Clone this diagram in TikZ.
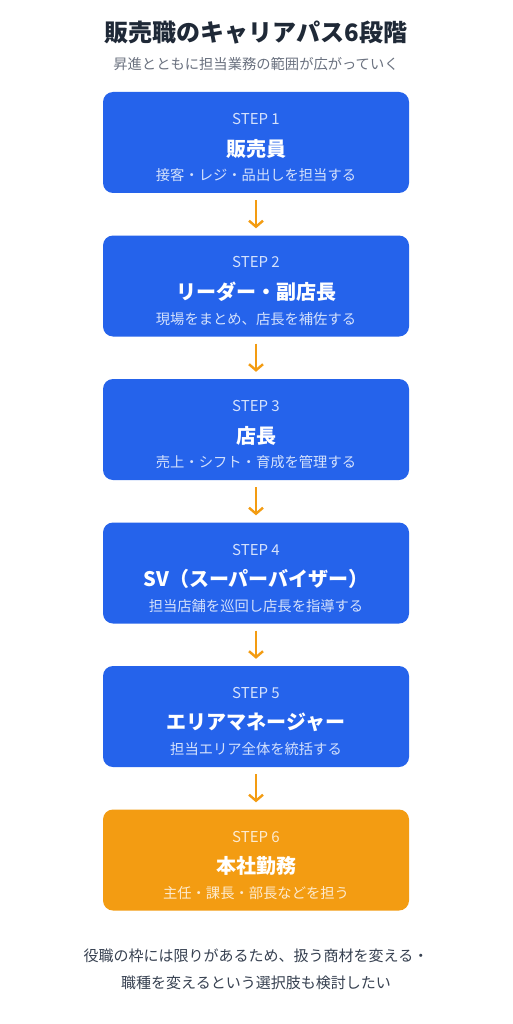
\documentclass[tikz,border=0pt]{standalone}
\usepackage{fontspec}
\setmainfont{Noto Sans CJK JP}
\usetikzlibrary{arrows.meta}
\definecolor{boxblue}{HTML}{2563EB}
\definecolor{boxorange}{HTML}{F39C12}
\definecolor{arroworange}{HTML}{F39C12}
\definecolor{titlecol}{HTML}{1F2937}
\definecolor{subcol}{HTML}{6B7280}
\definecolor{notecol}{HTML}{374151}
\definecolor{steplightb}{HTML}{D4E1FC}
\definecolor{steplighto}{HTML}{FDEBD0}
\tikzset{
  stepbox/.style={draw=none, fill=boxblue, rounded corners=10pt, minimum width=306pt, minimum height=101pt, inner sep=0pt},
  lastbox/.style={stepbox, fill=boxorange},
  steplabel/.style={font=\fontsize{15}{17}\selectfont, text=steplightb, inner sep=0pt},
  steplabelo/.style={font=\fontsize{15}{17}\selectfont, text=steplighto, inner sep=0pt},
  stepname/.style={font=\fontsize{20}{22}\selectfont\bfseries, text=white, inner sep=0pt},
  stepdesc/.style={font=\fontsize{14.3}{16}\selectfont, text=steplightb, inner sep=0pt},
  stepdesco/.style={font=\fontsize{14.3}{16}\selectfont, text=steplighto, inner sep=0pt},
  flow/.style={draw=arroworange, line width=2.4pt, -{Straight Barb[length=6pt,width=14pt,line width=2.4pt]}, shorten <=7pt, shorten >=7pt}
}
\begin{document}
\begin{tikzpicture}[x=1pt,y=-1pt]
\useasboundingbox (0,0) rectangle (512,1024);
\fill[white] (0,0) rectangle (512,1024);
\node[font=\fontsize{24}{28}\selectfont\bfseries, text=titlecol, inner sep=0pt] (title) at (256,33) {販売職のキャリアパス6段階};
\node[font=\fontsize{14.3}{17}\selectfont, text=subcol, inner sep=0pt] (sub) at (256,64) {昇進とともに担当業務の範囲が広がっていく};

\node[stepbox] (s1) at (256,142.5) {};
\node[stepbox] (s2) at (256,286) {};
\node[stepbox] (s3) at (256,429.5) {};
\node[stepbox] (s4) at (256,573) {};
\node[stepbox] (s5) at (256,716.5) {};
\node[lastbox] (s6) at (256,860) {};

\node[steplabel] (s1a) at ([yshift=23.5pt]s1.center) {STEP 1};
\node[stepname] (s1b) at ([yshift=-6pt]s1.center) {販売員};
\node[stepdesc] (s1c) at ([yshift=-33pt]s1.center) {接客・レジ・品出しを担当する};

\node[steplabel] (s2a) at ([yshift=23.5pt]s2.center) {STEP 2};
\node[stepname] (s2b) at ([yshift=-6pt]s2.center) {リーダー・副店長};
\node[stepdesc] (s2c) at ([yshift=-33pt]s2.center) {現場をまとめ、店長を補佐する};

\node[steplabel] (s3a) at ([yshift=23.5pt]s3.center) {STEP 3};
\node[stepname] (s3b) at ([yshift=-6pt]s3.center) {店長};
\node[stepdesc] (s3c) at ([yshift=-33pt]s3.center) {売上・シフト・育成を管理する};

\node[steplabel] (s4a) at ([yshift=23.5pt]s4.center) {STEP 4};
\node[stepname] (s4b) at ([yshift=-6pt]s4.center) {SV（スーパーバイザー）};
\node[stepdesc] (s4c) at ([yshift=-33pt]s4.center) {担当店舗を巡回し店長を指導する};

\node[steplabel] (s5a) at ([yshift=23.5pt]s5.center) {STEP 5};
\node[stepname] (s5b) at ([yshift=-6pt]s5.center) {エリアマネージャー};
\node[stepdesc] (s5c) at ([yshift=-33pt]s5.center) {担当エリア全体を統括する};

\node[steplabelo] (s6a) at ([yshift=23.5pt]s6.center) {STEP 6};
\node[stepname] (s6b) at ([yshift=-6pt]s6.center) {本社勤務};
\node[stepdesco] (s6c) at ([yshift=-33pt]s6.center) {主任・課長・部長などを担う};

\draw[flow] (s1.south) -- (s2.north);
\draw[flow] (s2.south) -- (s3.north);
\draw[flow] (s3.south) -- (s4.north);
\draw[flow] (s4.south) -- (s5.north);
\draw[flow] (s5.south) -- (s6.north);

\node[font=\fontsize{15}{27}\selectfont, text=notecol, align=center, inner sep=0pt] (note) at (256,969) {役職の枠には限りがあるため、扱う商材を変える・\\職種を変えるという選択肢も検討したい};
\end{tikzpicture}
\end{document}
